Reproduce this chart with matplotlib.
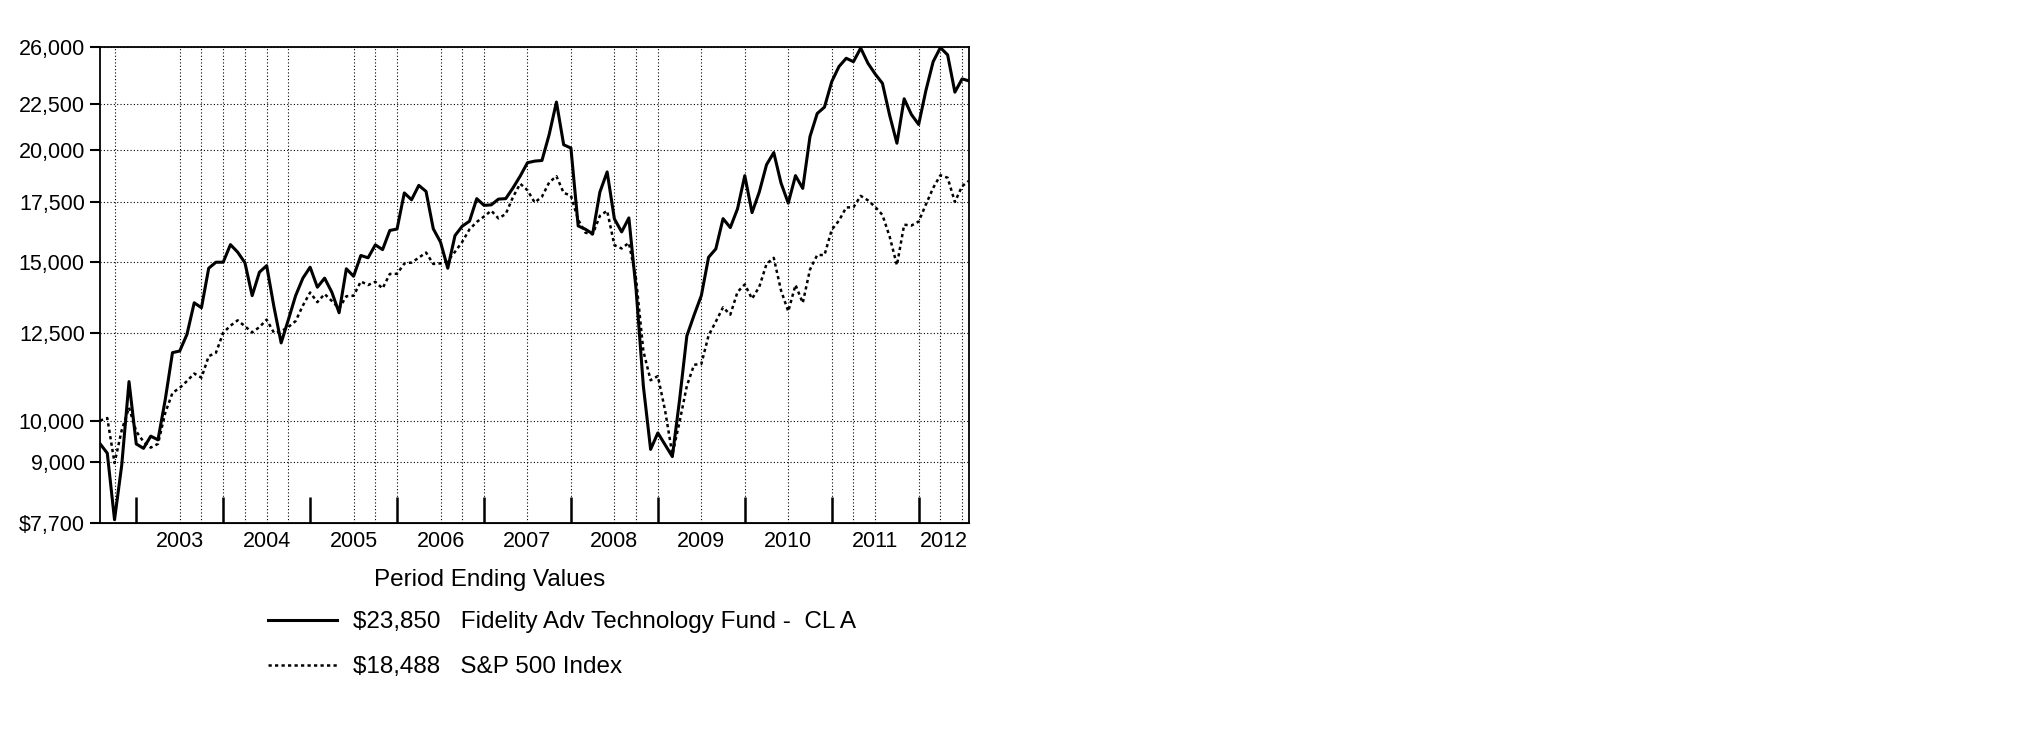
import numpy as np
import matplotlib
matplotlib.use("Agg")
import matplotlib.pyplot as plt
from matplotlib.ticker import FixedLocator, FixedFormatter, NullLocator

plt.rcParams["font.family"] = ["Liberation Sans", "DejaVu Sans"]

# month-end values, Jul 2002 .. Jul 2012
fund = [
    9425, 9200, 7760, 8930, 11050, 9420, 9315, 9610, 9520, 10550,
    11900, 11950, 12470, 13520, 13350, 14770, 15000, 15000, 15690, 15390,
    14980, 13770, 14620, 14870, 13390, 12200, 12950, 13770, 14400, 14810,
    14070, 14400, 13890, 13180, 14750, 14470, 15260, 15170, 15680, 15490,
    16270, 16330, 17910, 17600, 18260, 17980, 16340, 15790, 14770, 16060,
    16450, 16660, 17650, 17350, 17370, 17630, 17650, 18140, 18700, 19350,
    19430, 19460, 20800, 22600, 20260, 20090, 16460, 16320, 16130, 17950,
    18900, 16760, 16210, 16800, 13970, 10920, 9290, 9690, 9400, 9120,
    10550, 12420, 13100, 13770, 15190, 15520, 16770, 16390, 17200, 18720,
    17030, 17950, 19250, 19860, 18370, 17450, 18720, 18120, 20690, 21950,
    22310, 23810, 24750, 25280, 25060, 25950, 24960, 24280, 23710, 21840,
    20340, 22790, 21890, 21340, 23280, 25060, 25980, 25500, 23180, 23980,
    23850,
]
sp500 = [
    10000, 10066, 8972, 9762, 10337, 9729, 9474, 9332, 9422, 10199,
    10736, 10874, 11065, 11281, 11161, 11793, 11897, 12520, 12750, 12927,
    12732, 12532, 12704, 12950, 12522, 12572, 12708, 12902, 13425, 13881,
    13542, 13827, 13582, 13324, 13748, 13767, 14279, 14149, 14264, 14026,
    14556, 14561, 14947, 14987, 15173, 15376, 14933, 14954, 15047, 15405,
    15802, 16317, 16627, 16860, 17115, 16780, 16968, 17720, 18338, 18034,
    17475, 17737, 18400, 18693, 17912, 17788, 16721, 16177, 16108, 16892,
    17112, 15669, 15537, 15762, 14358, 11947, 11089, 11207, 10262, 9169,
    9972, 10926, 11537, 11560, 12434, 12883, 13364, 13115, 13902, 14170,
    13660, 14083, 14932, 15168, 13956, 13226, 14153, 13515, 14720, 15279,
    15278, 16299, 16685, 17257, 17264, 17775, 17574, 17280, 16930, 16011,
    14885, 16512, 16476, 16644, 17390, 18141, 18738, 18620, 17501, 18222,
    18488,
]
FIRST_YEAR, FIRST_MONTH = 2002, 7
years = list(range(2003, 2013))
yticks = [7700, 9000, 10000, 12500, 15000, 17500, 20000, 22500, 26000]
ytick_labels = ["$7,700", "9,000", "10,000", "12,500", "15,000",
                "17,500", "20,000", "22,500", "26,000"]
grid_months = [
    "2002-09", "2003-06", "2003-09", "2003-12", "2004-03", "2004-06",
    "2004-09", "2005-06", "2005-09", "2005-12", "2006-06", "2006-09",
    "2006-12", "2007-06", "2007-12", "2008-06", "2008-09", "2008-12",
    "2009-06", "2009-12", "2010-06", "2010-12", "2011-03", "2011-06",
    "2011-12", "2012-03", "2012-06",
]
fund_name = "Fidelity Adv Technology Fund -  CL A"
index_name = "S&P 500 Index"


def month_index(s):
    y, m = map(int, s.split("-"))
    return (y - FIRST_YEAR) * 12 + m - FIRST_MONTH


x = np.arange(len(fund))
last = len(fund) - 1
bounds = [month_index(f"{y - 1}-12") for y in years]
centers = [(b + min(b + 12, last)) / 2 for b in bounds]

fig = plt.figure(figsize=(20.25, 7.38), dpi=100)
ax = fig.add_axes([0.0494, 0.2917, 0.4293, 0.6442])

l1, = ax.plot(x, fund, color="black", lw=2.2)
l2, = ax.plot(x, sp500, color="black", lw=1.8, linestyle=(0, (1.3, 1.3)))

ax.set_yscale("log")
ax.set_ylim(7700, 26000)
ax.set_xlim(0, last)
ax.yaxis.set_major_locator(FixedLocator(yticks))
ax.yaxis.set_major_formatter(FixedFormatter(ytick_labels))
ax.yaxis.set_minor_locator(NullLocator())
ax.tick_params(axis="y", direction="out", length=7, width=1.5,
               labelsize=15.5, pad=4)

ax.set_xticks(centers, labels=[str(y) for y in years])
ax.set_xticks([month_index(m) for m in grid_months], minor=True)
ax.xaxis.remove_overlapping_locs = False
ax.tick_params(axis="x", which="both", length=0, labelsize=15.5, pad=6)

grid_style = dict(color="black", linestyle=(0, (1, 2)), lw=0.8)
ax.grid(axis="y", which="major", **grid_style)
ax.grid(axis="x", which="minor", **grid_style)

sec = ax.secondary_xaxis("bottom")
sec.set_xticks(bounds)
sec.xaxis.set_minor_locator(NullLocator())
sec.tick_params(direction="in", length=19, width=1.8, labelbottom=False)

for s in ax.spines.values():
    s.set_linewidth(1.3)

fig.text(490 / 2025, 1 - 580 / 738, "Period Ending Values", ha="center",
         va="center", fontsize=17.5)

fig.legend(
    handles=[l1, l2],
    labels=[f"${fund[-1]:,}   {fund_name}", f"${sp500[-1]:,}   {index_name}"],
    loc="upper left", bbox_to_anchor=(268 / 2025, 1 - 611 / 738),
    frameon=False, fontsize=17.5, handlelength=2.84, handletextpad=0.65,
    labelspacing=0.95, borderpad=0, borderaxespad=0,
)

fig.savefig("out.png", dpi=100)
